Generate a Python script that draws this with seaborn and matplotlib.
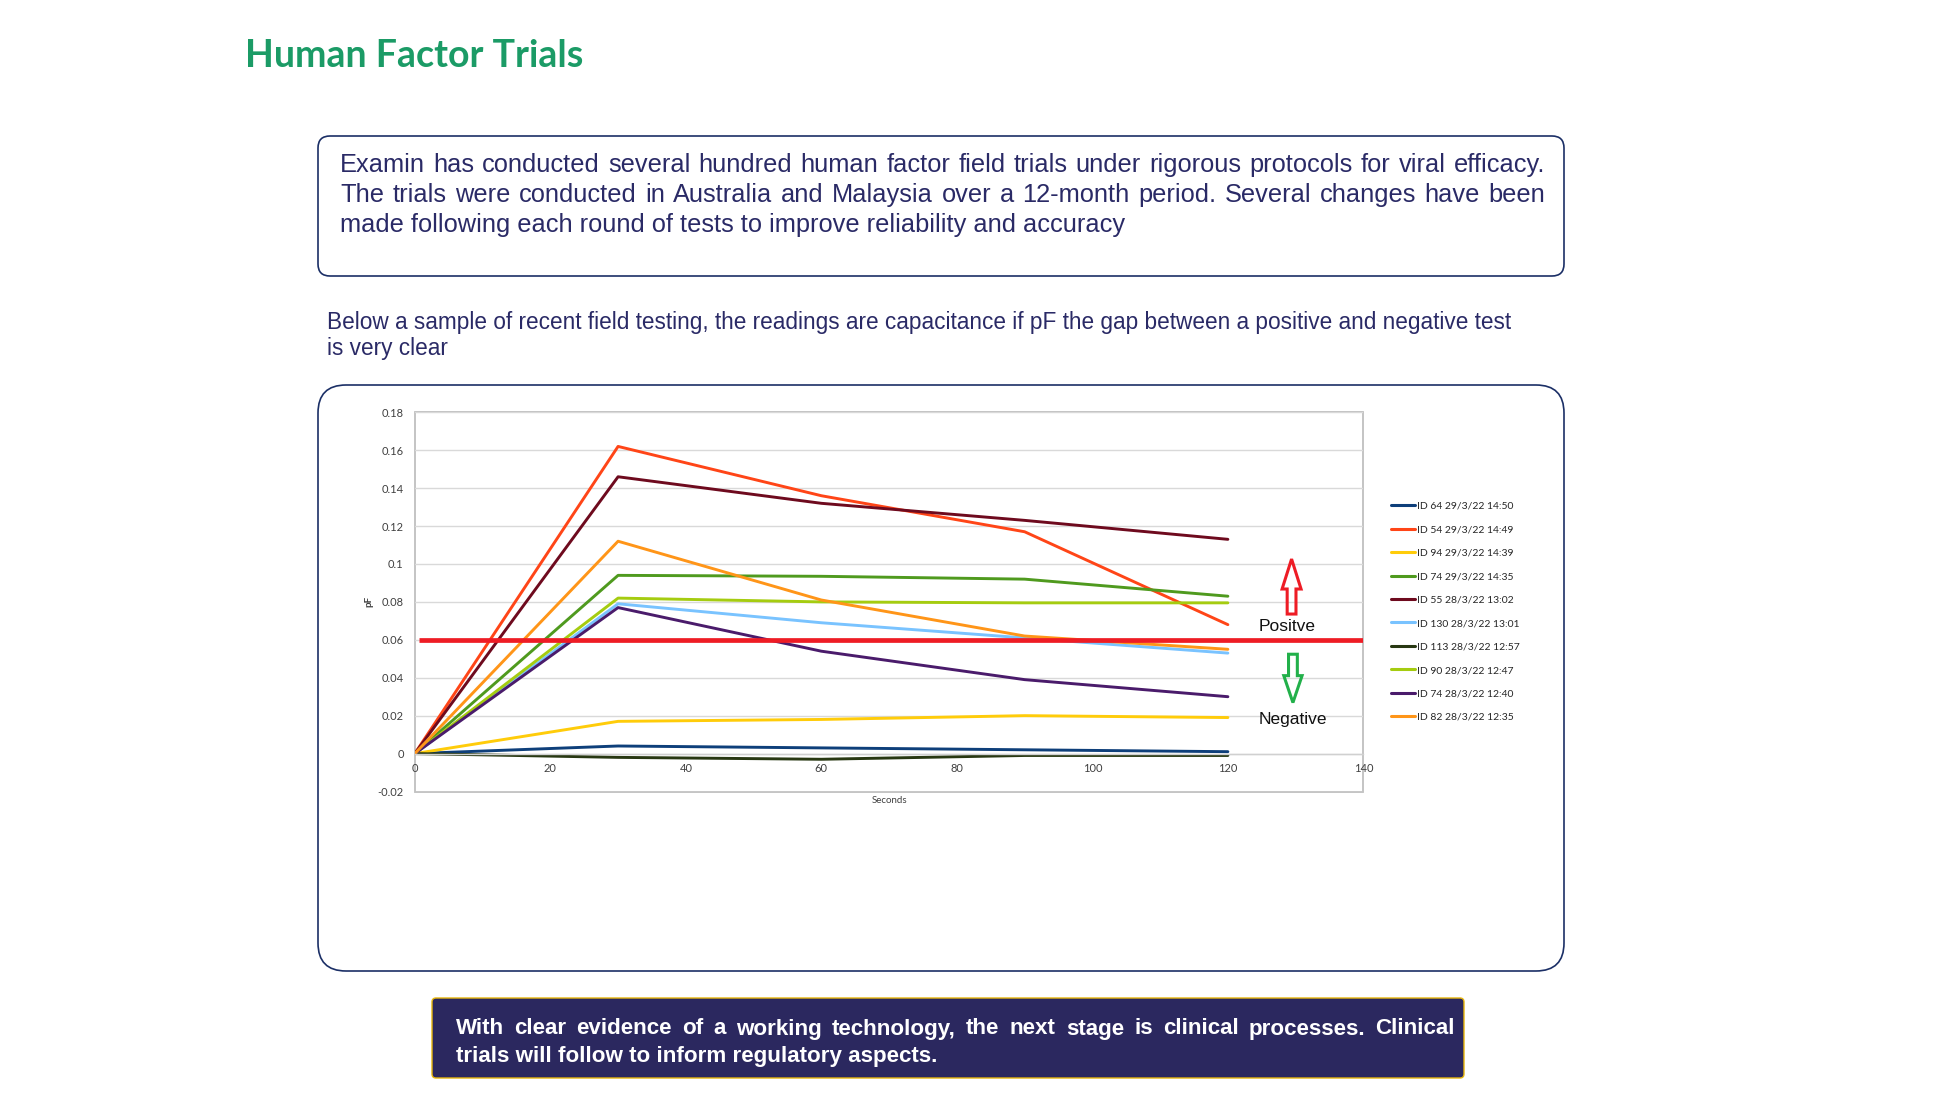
import numpy as np
import pandas as pd
import matplotlib
matplotlib.use("Agg")
import matplotlib.pyplot as plt
import seaborn as sns
from matplotlib.patches import FancyBboxPatch, FancyArrow, Rectangle
from matplotlib import font_manager as fm

# ---------------- data ----------------
SECONDS = [0, 30, 60, 90, 120]
SERIES_NAMES = [
    "ID 64 29/3/22 14:50", "ID 54 29/3/22 14:49", "ID 94 29/3/22 14:39",
    "ID 74 29/3/22 14:35", "ID 55 28/3/22 13:02", "ID 130 28/3/22 13:01",
    "ID 113 28/3/22 12:57", "ID 90 28/3/22 12:47", "ID 74 28/3/22 12:40",
    "ID 82 28/3/22 12:35",
]
ID64_2903_1450 = [0, 0.004, 0.003, 0.002, 0.001]
ID54_2903_1449 = [0, 0.162, 0.136, 0.117, 0.068]
ID94_2903_1439 = [0, 0.017, 0.018, 0.020, 0.019]
ID74_2903_1435 = [0, 0.094, 0.0935, 0.092, 0.083]
ID55_2803_1302 = [0, 0.146, 0.132, 0.123, 0.113]
ID130_2803_1301 = [0, 0.079, 0.069, 0.061, 0.053]
ID113_2803_1257 = [0, -0.002, -0.003, -0.001, -0.001]
ID90_2803_1247 = [0, 0.082, 0.080, 0.0795, 0.0795]
ID74_2803_1240 = [0, 0.077, 0.054, 0.039, 0.030]
ID82_2803_1235 = [0, 0.112, 0.081, 0.062, 0.055]
SERIES_VALUES = [ID64_2903_1450, ID54_2903_1449, ID94_2903_1439, ID74_2903_1435,
                 ID55_2803_1302, ID130_2803_1301, ID113_2803_1257, ID90_2803_1247,
                 ID74_2803_1240, ID82_2803_1235]
SERIES_COLORS = ["#0E3F7A", "#FF4517", "#FFCC0A", "#4F9A1E", "#6E0A1E",
                 "#79C3FF", "#283812", "#A5CC10", "#4A1B6B", "#FF9518"]
THRESHOLD = 0.06
X_TICKS = [0, 20, 40, 60, 80, 100, 120, 140]
Y_TICKS = [-0.02, 0, 0.02, 0.04, 0.06, 0.08, 0.1, 0.12, 0.14, 0.16, 0.18]
Y_TICK_LABELS = ["-0.02", "0", "0.02", "0.04", "0.06", "0.08", "0.1", "0.12", "0.14", "0.16", "0.18"]

TITLE = "Human Factor Trials"
INTRO_LINES = [
    "Examin has conducted several hundred human factor field trials under rigorous protocols for viral efficacy.",
    "The trials were conducted in Australia and Malaysia over a 12-month period. Several changes have been",
    "made following each round of tests to improve reliability and accuracy",
]
SUB_LINES = [
    "Below a sample of recent field testing, the readings are capacitance if pF the gap between a positive and negative test",
    "is very clear",
]
BOTTOM_LINES = [
    "With clear evidence of a working technology, the next stage is clinical processes. Clinical",
    "trials will follow to inform regulatory aspects.",
]

# ---------------- style ----------------
sns.set_theme(style="white")
plt.rcParams["font.family"] = ["Liberation Sans", "DejaVu Sans"]

available = {f.name for f in fm.fontManager.ttflist}
small_font = "Lato" if "Lato" in available else "DejaVu Sans"

W, H = 1947, 1098
fig = plt.figure(figsize=(W / 100, H / 100), dpi=100)
fig.patch.set_facecolor("white")

# background axes in pixel units
bg = fig.add_axes([0, 0, 1, 1], zorder=0)
bg.set_xlim(0, W)
bg.set_ylim(H, 0)
bg.axis("off")

NAVY = "#1B2F66"
TEXT = "#2A2A66"

bg.text(245, 67, TITLE, fontsize=27, fontweight="bold", color="#1B9B66",
        family=small_font, va="baseline", ha="left")

# boxes
bg.add_patch(FancyBboxPatch((318, 136), 1564 - 318, 276 - 136,
                            boxstyle="round,pad=0,rounding_size=12",
                            fc="white", ec=NAVY, lw=1.2))
bg.add_patch(FancyBboxPatch((318, 385), 1564 - 318, 971 - 385,
                            boxstyle="round,pad=0,rounding_size=28",
                            fc="white", ec=NAVY, lw=1.2))
bg.add_patch(FancyBboxPatch((432, 998), 1464 - 432, 1078 - 998,
                            boxstyle="round,pad=0,rounding_size=4",
                            fc="#2B285F", ec="#E8B60C", lw=1.0))

renderer = fig.canvas.get_renderer()


def draw_line(text, x0, x1, y, justify, **kw):
    if not justify:
        bg.text(x0, y, text, va="baseline", ha="left", **kw)
        return
    words = text.split()
    objs = [bg.text(0, y, w, va="baseline", ha="left", **kw) for w in words]
    widths = [o.get_window_extent(renderer).width for o in objs]
    gap = (x1 - x0 - sum(widths)) / (len(words) - 1)
    x = x0
    for o, w in zip(objs, widths):
        o.set_x(x)
        x += w + gap


for i, line in enumerate(INTRO_LINES):
    draw_line(line, 340, 1545, 172 + 30 * i, i < 2, fontsize=18.3, color=TEXT)
for i, line in enumerate(SUB_LINES):
    draw_line(line, 327, 1511, 329 + 26 * i, False, fontsize=16.3, color=TEXT)
for i, line in enumerate(BOTTOM_LINES):
    draw_line(line, 456, 1455, 1034.5 + 27.5 * i, i < 1, fontsize=16.1,
              color="white", fontweight="bold")

# ---------------- chart ----------------
AX_L, AX_R, AX_T, AX_B = 414.8, 1363.4, 412.3, 791.5
ax = fig.add_axes([AX_L / W, 1 - AX_B / H, (AX_R - AX_L) / W, (AX_B - AX_T) / H], zorder=1)
ax.set_facecolor("white")

rows = []
for name, vals in zip(SERIES_NAMES, SERIES_VALUES):
    for s, v in zip(SECONDS, vals):
        rows.append({"Seconds": s, "pF": v, "Series": name})
df = pd.DataFrame(rows)
palette = dict(zip(SERIES_NAMES, SERIES_COLORS))

sns.lineplot(data=df, x="Seconds", y="pF", hue="Series", hue_order=SERIES_NAMES,
             palette=palette, linewidth=2.1, sort=False, ax=ax, legend=True)

ax.set_xlim(0, 140)
ax.set_ylim(-0.02, 0.18)
ax.set_xticks(X_TICKS)
ax.set_xticklabels([str(t) for t in X_TICKS])
ax.set_yticks(Y_TICKS)
ax.set_yticklabels(Y_TICK_LABELS)
ax.grid(axis="y", color="#D9D9D9", lw=1.0)
ax.grid(axis="x", visible=False)
ax.set_axisbelow(True)

for side in ["left", "top", "right"]:
    ax.spines[side].set_visible(False)
ax.spines["bottom"].set_position(("data", 0))
ax.spines["bottom"].set_color("#D0D0D0")
ax.spines["bottom"].set_linewidth(1.0)
ax.add_patch(Rectangle((0, 0), 1, 1, transform=ax.transAxes, fill=False,
                       ec="#BFBFBF", lw=1.3, clip_on=False, zorder=0.5))

ax.tick_params(axis="both", length=0, labelsize=8, labelcolor="#404040")
ax.tick_params(axis="y", pad=8)
ax.tick_params(axis="x", pad=7)
for lab in ax.get_xticklabels() + ax.get_yticklabels():
    lab.set_family(small_font)

ax.set_xlabel("Seconds", fontsize=7, color="#404040", family=small_font)
ax.xaxis.set_label_coords(0.5, -0.012)
ax.xaxis.label.set_va("top")
ax.set_ylabel("pF", fontsize=7, color="#404040", family=small_font, fontweight="bold")
ax.yaxis.set_label_coords(-0.048, 0.5)
ax.yaxis.label.set_va("center")

# threshold line
ax.hlines(THRESHOLD, 0.6, 140, color="#EE1C25", lw=3.4, zorder=5)

# annotations
ax.text(128.7, 0.0647, "Positve", fontsize=12.5, color="#111111", ha="center",
        va="baseline", zorder=6)
ax.text(129.6, 0.0158, "Negative", fontsize=12.5, color="#111111", ha="center",
        va="baseline", zorder=6)
ax.add_patch(FancyArrow(129.4, 0.0736, 0, 0.1026 - 0.0736, width=1.3, head_width=2.8,
                        head_length=0.0158, length_includes_head=True, fill=False,
                        ec="#EE1C25", lw=2.2, zorder=6))
ax.add_patch(FancyArrow(129.6, 0.0524, 0, 0.0269 - 0.0524, width=1.3, head_width=2.7,
                        head_length=0.0142, length_includes_head=True, fill=False,
                        ec="#22B04A", lw=2.2, zorder=6))

# legend
handles, labels = ax.get_legend_handles_labels()
ax.get_legend().remove()
leg = ax.legend(handles, labels, loc="upper left",
                bbox_to_anchor=(1391 / W, 1 - 501.5 / H), bbox_transform=fig.transFigure,
                frameon=False, handlelength=2.3, handletextpad=0.15,
                labelspacing=1.36, borderpad=0, borderaxespad=0,
                prop={"family": small_font, "size": 7.5})
for lh in leg.get_lines():
    lh.set_linewidth(2.2)
for t in leg.get_texts():
    t.set_color("#262626")

fig.savefig("out.png", dpi=100, facecolor="white")
